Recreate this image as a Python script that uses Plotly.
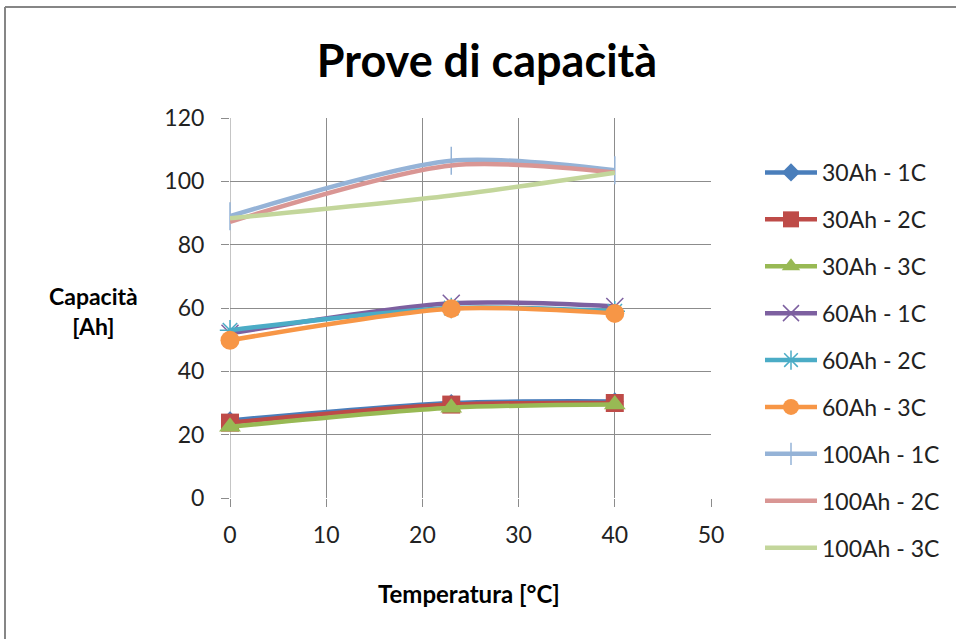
import plotly.graph_objects as go

# Test temperatures [°C]
temperature = [0, 23, 40]

# Measured capacity [Ah] per battery size and discharge rate
cap_30_1c = [24.5, 30.0, 30.5]
cap_30_2c = [23.8, 29.5, 30.0]
cap_30_3c = [22.5, 28.5, 29.5]
cap_60_1c = [52.0, 61.5, 60.5]
cap_60_2c = [53.0, 60.0, 59.0]
cap_60_3c = [49.8, 59.8, 58.3]
cap_100_1c = [89.0, 106.5, 103.5]
cap_100_2c = [87.2, 105.0, 102.8]
cap_100_3c = [88.3, 95.5, 102.7]

series_names = ["30Ah - 1C", "30Ah - 2C", "30Ah - 3C",
                "60Ah - 1C", "60Ah - 2C", "60Ah - 3C",
                "100Ah - 1C", "100Ah - 2C", "100Ah - 3C"]
series_values = [cap_30_1c, cap_30_2c, cap_30_3c,
                 cap_60_1c, cap_60_2c, cap_60_3c,
                 cap_100_1c, cap_100_2c, cap_100_3c]

x_ticks = [0, 10, 20, 30, 40, 50]
y_ticks = [0, 20, 40, 60, 80, 100, 120]

styles = [
    dict(color="#4A7EBB", symbol="diamond", size=14, lw=None),
    dict(color="#BE4B48", symbol="square", size=18, lw=None),
    dict(color="#98B954", symbol="triangle-up", size=19, lw=None),
    dict(color="#7D60A0", symbol="x-thin", size=17, lw=1.5),
    dict(color="#4BACC6", symbol="asterisk", size=17, lw=1.5),
    dict(color="#F79646", symbol="circle", size=19, lw=None),
    dict(color="#95B3D7", symbol="line-ns", size=20, lw=1.5),
    dict(color="#D99694", symbol=None, size=0, lw=None),
    dict(color="#C3D69B", symbol=None, size=0, lw=None),
]

FONT = "Lato, Calibri, 'Open Sans', sans-serif"
TXT = "#222222"

fig = go.Figure()
for i, (name, vals, st) in enumerate(zip(series_names, series_values, styles)):
    if st["symbol"] is None:
        mode = "lines"
        marker = None
    else:
        mode = "lines+markers"
        marker = dict(symbol=st["symbol"], size=st["size"], color=st["color"])
        if st["lw"] is not None:
            marker["line"] = dict(color=st["color"], width=st["lw"])
        else:
            marker["line"] = dict(width=0)
    fig.add_trace(go.Scatter(
        x=temperature, y=vals, name=name, mode=mode,
        line=dict(color=st["color"], width=4.5, shape="spline", smoothing=0.8),
        marker=marker, legendgroup=f"g{i}",
        cliponaxis=False,
    ))

W, H = 956, 639
L, R, T, B = 230, 245, 118, 141
pw, ph = W - L - R, H - T - B


def px_x(p):
    return (p - L) / pw


def px_y(p):
    return (H - B - p) / ph


fig.update_layout(
    width=W, height=H,
    margin=dict(l=L, r=R, t=T, b=B, autoexpand=False),
    paper_bgcolor="white", plot_bgcolor="white",
    font=dict(family=FONT, size=22, color=TXT),
    title=dict(text="<b>Prove di capacità</b>", xref="container",
               x=487 / W, xanchor="center",
               yref="container", y=1 - 61 / H, yanchor="middle",
               font=dict(family=FONT, size=45, color="black")),
    showlegend=True,
    legend=dict(x=px_x(760), xanchor="left", y=px_y(151), yanchor="top",
                traceorder="grouped", tracegroupgap=14, maxheight=480,
                font=dict(family=FONT, size=23, color=TXT),
                itemwidth=52, bgcolor="rgba(0,0,0,0)"),
    xaxis=dict(range=[0, 50], tickvals=x_ticks, showgrid=True,
               gridcolor="#8C8C8C", gridwidth=1, zeroline=False,
               showline=False, ticks="outside", ticklen=8, tickcolor="#8C8C8C",
               ticklabelstandoff=8,
               tickfont=dict(family=FONT, size=23, color=TXT),
               title=None),
    yaxis=dict(range=[0, 120], tickvals=y_ticks, showgrid=True,
               gridcolor="#8C8C8C", gridwidth=1, zeroline=False,
               showline=False, ticks="outside", ticklen=8, tickcolor="#8C8C8C",
               ticklabelstandoff=12,
               tickfont=dict(family=FONT, size=23, color=TXT),
               title=None),
)

# Vertical axis line at x = 0
fig.add_shape(type="line", xref="x", yref="paper", x0=0, x1=0, y0=0, y1=1,
              line=dict(color="#8C8C8C", width=1), layer="below")

# Axis titles
fig.add_annotation(text="<b>Capacità<br>[Ah]</b>", xref="paper", yref="paper",
                   x=px_x(93), y=px_y(311), xanchor="center", yanchor="middle",
                   showarrow=False, align="center",
                   font=dict(family=FONT, size=23, color="black"))
fig.add_annotation(text="<b>Temperatura [°C]</b>", xref="paper", yref="paper",
                   x=px_x(469), y=px_y(593), xanchor="center", yanchor="middle",
                   showarrow=False,
                   font=dict(family=FONT, size=24, color="black"))

# Chart frame (left and top edges)
fig.add_shape(type="line", xref="paper", yref="paper",
              x0=px_x(5), x1=px_x(5), y0=px_y(7), y1=px_y(H + 5),
              line=dict(color="#868686", width=2))
fig.add_shape(type="line", xref="paper", yref="paper",
              x0=px_x(5), x1=px_x(W + 5), y0=px_y(7), y1=px_y(7),
              line=dict(color="#868686", width=2))

fig.write_html("out.html")
